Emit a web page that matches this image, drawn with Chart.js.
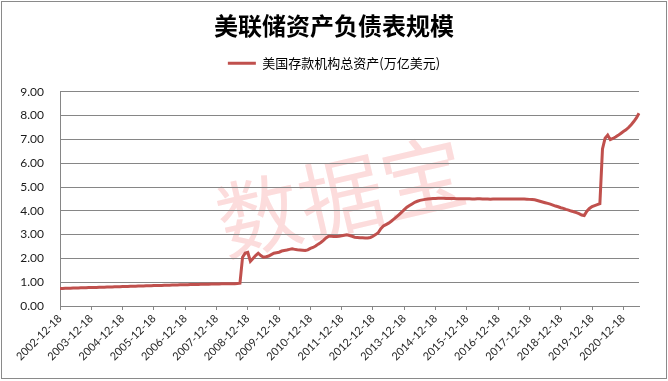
<!DOCTYPE html>
<html>
<head>
<meta charset="utf-8">
<script src="https://cdn.jsdelivr.net/npm/chart.js@4.4.0/dist/chart.umd.min.js"></script>
<style>
html,body{margin:0;padding:0;background:#fff;}
#wrap{position:relative;width:668px;height:381px;overflow:hidden;background:#fff;}
#wm{position:absolute;left:340px;top:192px;transform:translate(-50%,-50%) rotate(-13deg);font-family:"Noto Sans CJK SC";font-size:84px;font-weight:400;color:#fcdcdc;white-space:nowrap;z-index:0;line-height:1;}
canvas{position:absolute;left:0;top:0;z-index:1;}
#frame{position:absolute;left:1px;top:1px;width:664px;height:376px;border:1px solid #8a8a8a;z-index:2;pointer-events:none;}
</style>
</head>
<body>
<div id="wrap">
  <div id="wm">数据宝</div>
  <canvas id="c" width="668" height="381"></canvas>
  <div id="frame"></div>
</div>
<script>
const chartTitle = '美联储资产负债表规模';
const seriesName = '美国存款机构总资产(万亿美元)';
const tickLabels = ['2002-12-18','2003-12-18','2004-12-18','2005-12-18','2006-12-18','2007-12-18','2008-12-18','2009-12-18','2010-12-18','2011-12-18','2012-12-18','2013-12-18','2014-12-18','2015-12-18','2016-12-18','2017-12-18','2018-12-18','2019-12-18','2020-12-18'];
const yTickValues = [0, 1, 2, 3, 4, 5, 6, 7, 8, 9];

// monthly values (万亿美元), 2002-12 .. 2021-06
const assetValues = [
  0.74,
  0.74,0.75,0.75,0.75,0.76,0.76,0.76,0.77,0.77,0.77,0.78,0.78,
  0.78,0.78,0.79,0.79,0.79,0.80,0.80,0.80,0.81,0.81,0.81,0.82,
  0.82,0.82,0.83,0.83,0.83,0.84,0.84,0.84,0.85,0.85,0.85,0.86,
  0.86,0.86,0.86,0.87,0.87,0.87,0.88,0.88,0.88,0.89,0.89,0.89,
  0.89,0.90,0.90,0.90,0.90,0.91,0.91,0.91,0.91,0.92,0.92,0.92,
  0.92,0.93,0.93,0.93,0.93,0.94,0.94,0.95,0.96,2.05,2.22,2.25,
  1.88,2.00,2.12,2.22,2.12,2.05,2.07,2.10,2.16,2.22,2.24,2.26,
  2.31,2.33,2.35,2.38,2.40,2.38,2.36,2.35,2.34,2.33,2.36,2.42,
  2.46,2.52,2.60,2.67,2.76,2.86,2.93,2.93,2.92,2.92,2.93,2.95,
  2.97,2.99,2.96,2.93,2.89,2.88,2.87,2.87,2.86,2.86,2.88,2.93,
  3.00,3.08,3.25,3.36,3.42,3.48,3.56,3.65,3.74,3.84,3.94,4.05,
  4.15,4.22,4.29,4.36,4.40,4.44,4.46,4.48,4.50,4.51,4.52,4.52,
  4.53,4.53,4.53,4.52,4.52,4.52,4.52,4.51,4.51,4.51,4.51,4.51,
  4.51,4.50,4.50,4.51,4.51,4.50,4.50,4.50,4.49,4.50,4.50,4.50,
  4.50,4.50,4.50,4.50,4.50,4.50,4.50,4.50,4.50,4.50,4.49,4.48,
  4.47,4.46,4.43,4.40,4.37,4.34,4.31,4.28,4.24,4.20,4.17,4.13,
  4.10,4.06,4.03,3.99,3.96,3.92,3.88,3.82,3.80,3.98,4.10,4.18,
  4.22,4.26,4.30,6.60,7.05,7.18,6.99,7.04,7.10,7.17,7.25,7.33,
  7.40,7.50,7.62,7.75,7.90,8.10
];

// monthly category labels starting from the first tick label
const categories = [];
(function(){
  const y0 = parseInt(tickLabels[0].slice(0,4),10);
  for (let i = 0; i < assetValues.length; i++) {
    const m = 11 + i;
    const yr = y0 + Math.floor(m / 12);
    const mo = (m % 12) + 1;
    categories.push(yr + '-' + String(mo).padStart(2,'0') + '-18');
  }
})();

const lineColor = '#C0504D';
const gridColor = '#868686';

const legendGap = {
  id: 'legendGap',
  beforeLayout(chart) {
    const lg = chart.legend;
    if (lg && !lg.__patched) {
      const f = lg.fit;
      lg.fit = function() { f.call(this); this.height += 12; };
      lg.__patched = true;
    }
  }
};

new Chart(document.getElementById('c').getContext('2d'), {
  type: 'line',
  data: {
    labels: categories,
    datasets: [{
      label: seriesName,
      data: assetValues,
      borderColor: lineColor,
      backgroundColor: lineColor,
      borderWidth: 3,
      pointRadius: 0,
      tension: 0,
      fill: false
    }]
  },
  options: {
    responsive: false,
    animation: false,
    devicePixelRatio: 1,
    layout: { padding: { top: 11, left: 0, right: 0, bottom: 0 } },
    plugins: {
      title: {
        display: true,
        text: chartTitle,
        color: '#000',
        font: { family: '"Noto Sans CJK SC"', size: 24, weight: 'bold' },
        padding: { top: 0, bottom: 0 }
      },
      legend: {
        display: true,
        position: 'top',
        labels: {
          font: { family: '"Noto Sans CJK SC"', size: 13 },
          color: '#000',
          boxWidth: 28,
          boxHeight: 3,
          padding: 17,
          generateLabels: () => [{ text: seriesName, fillStyle: lineColor, strokeStyle: lineColor, lineWidth: 0, hidden: false, datasetIndex: 0 }]
        }
      },
      tooltip: { enabled: false }
    },
    scales: {
      x: {
        type: 'category',
        offset: false,
        grid: { drawOnChartArea: false, drawTicks: true, tickLength: 4, color: gridColor },
        border: { color: gridColor, width: 1 },
        ticks: {
          autoSkip: false, minRotation: 45, maxRotation: 45, padding: 2,
          font: { family: 'Lato', size: 11 }, color: '#262626',
          callback: function(v) { return this.getLabelForValue(v); }
        },
        afterBuildTicks: (ax) => { ax.ticks = ax.ticks.filter(t => tickLabels.includes(categories[t.value])); },
        afterFit: (ax) => { ax.height = 75; }
      },
      y: {
        min: yTickValues[0], max: yTickValues[yTickValues.length - 1],
        afterBuildTicks: (ax) => { ax.ticks = yTickValues.map(v => ({ value: v })); },
        ticks: {
          padding: 16, font: { family: 'Lato', size: 12 }, color: '#1a1a1a',
          callback: v => Number(v).toFixed(2)
        },
        grid: { color: gridColor, drawTicks: false },
        border: { color: gridColor },
        afterFit: (ax) => { ax.width = 60; }
      },
      yRight: {
        type: 'linear',
        position: 'right',
        display: true,
        grid: { display: false, drawTicks: false },
        border: { display: false },
        ticks: { display: false },
        afterFit: (ax) => { ax.width = 29; }
      }
    }
  },
  plugins: [legendGap]
});
</script>
</body>
</html>
